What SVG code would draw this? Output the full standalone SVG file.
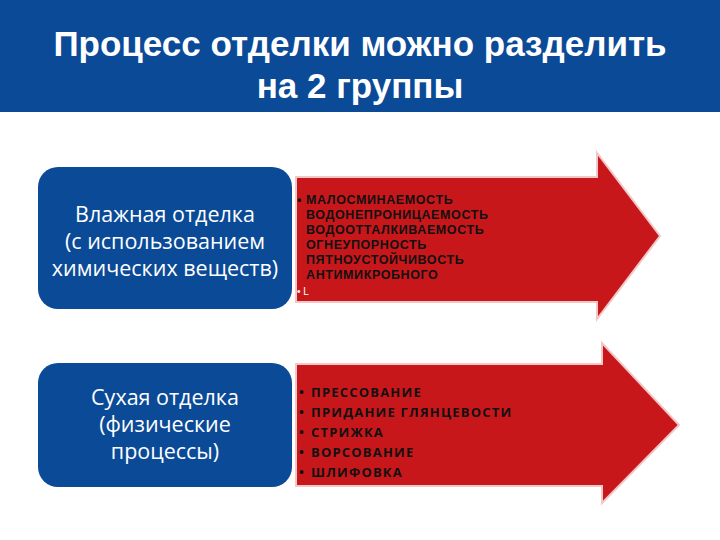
<svg xmlns="http://www.w3.org/2000/svg" width="720" height="540" viewBox="0 0 720 540">
<style>
.box{fill:#0b4a97;}
.arr{fill:#c8171b;stroke:#f2c7c7;stroke-width:2;}
.bt{font-family:"Open Sans","Noto Sans",sans-serif;font-size:21.5px;fill:#fff;text-anchor:middle;}
.l1{font-family:"Liberation Sans",Arial,sans-serif;font-size:12.5px;font-weight:bold;fill:#111;letter-spacing:0.6px;}
.l2{font-family:"Open Sans","Noto Sans",sans-serif;font-size:13px;font-weight:bold;fill:#111;letter-spacing:1.2px;}
</style>
<rect width="720" height="540" fill="#fff"/>
<g id="title">
<rect x="0" y="0" width="720" height="112" fill="#0b4a97"/>
<text x="360" y="56" font-family="Liberation Sans,Arial,sans-serif" font-size="35" font-weight="bold" fill="#fff" text-anchor="middle">Процесс отделки можно разделить</text>
<text x="360" y="98" font-family="Liberation Sans,Arial,sans-serif" font-size="35" font-weight="bold" fill="#fff" text-anchor="middle">на 2 группы</text>
</g>
<g id="connectors"></g>
<g id="arrow1">
<polygon class="arr" points="296,177 597,177 597,153 660,236 597,319 597,302 296,302"/>
<text class="l1" x="297" y="204">• МАЛОСМИНАЕМОСТЬ</text>
<text class="l1" x="306" y="219">ВОДОНЕПРОНИЦАЕМОСТЬ</text>
<text class="l1" x="306" y="234">ВОДООТТАЛКИВАЕМОСТЬ</text>
<text class="l1" x="306" y="249">ОГНЕУПОРНОСТЬ</text>
<text class="l1" x="306" y="264">ПЯТНОУСТОЙЧИВОСТЬ</text>
<text class="l1" x="306" y="279">АНТИМИКРОБНОГО</text>
<text x="297" y="295" font-family="Liberation Sans,Arial,sans-serif" font-size="10" fill="#fff">• L</text>
</g>
<g id="arrow2">
<polygon class="arr" points="296,364 602,364 602,343 679,425 602,503 602,486 296,486"/>
<g class="l2">
<text x="299" y="397">•</text><text x="311" y="397">ПРЕССОВАНИЕ</text>
<text x="299" y="417">•</text><text x="311" y="417">ПРИДАНИЕ ГЛЯНЦЕВОСТИ</text>
<text x="299" y="437">•</text><text x="311" y="437">СТРИЖКА</text>
<text x="299" y="457">•</text><text x="311" y="457">ВОРСОВАНИЕ</text>
<text x="299" y="477">•</text><text x="311" y="477">ШЛИФОВКА</text>
</g>
</g>
<g id="wet">
<rect class="box" x="38" y="167" width="254" height="142" rx="20"/>
<text class="bt" x="165" y="222">Влажная отделка</text>
<text class="bt" x="165" y="249">(с использованием</text>
<text class="bt" x="165" y="276">химических веществ)</text>
</g>
<g id="dry">
<rect class="box" x="38" y="363" width="254" height="124" rx="20"/>
<text class="bt" x="165" y="405">Сухая отделка</text>
<text class="bt" x="165" y="432">(физические</text>
<text class="bt" x="165" y="459">процессы)</text>
</g>
</svg>
